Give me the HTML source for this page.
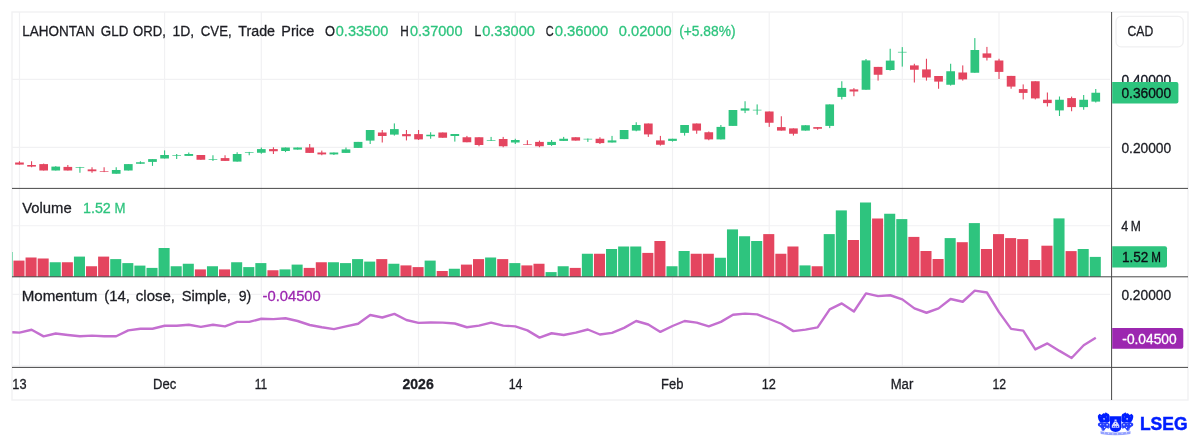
<!DOCTYPE html>
<html lang="en"><head><meta charset="utf-8"><title>LAHONTAN GLD ORD chart</title>
<style>html,body{margin:0;padding:0;background:#fff;}body{width:1200px;height:437px;overflow:hidden;}svg{display:block;}text{font-family:"Liberation Sans",sans-serif;}</style></head><body>
<svg width="1200" height="437" viewBox="0 0 1200 437">
<rect width="1200" height="437" fill="#fff"/>
<rect x="12" y="12" width="1176" height="388" fill="none" stroke="#f1f1f3" stroke-width="1.4"/>
<g stroke="#f1f1f3" stroke-width="1.15">
<line x1="19.5" y1="12" x2="19.5" y2="367"/>
<line x1="164.6" y1="12" x2="164.6" y2="367"/>
<line x1="261.3" y1="12" x2="261.3" y2="367"/>
<line x1="418.5" y1="12" x2="418.5" y2="367"/>
<line x1="515.3" y1="12" x2="515.3" y2="367"/>
<line x1="672.5" y1="12" x2="672.5" y2="367"/>
<line x1="769.2" y1="12" x2="769.2" y2="367"/>
<line x1="902.3" y1="12" x2="902.3" y2="367"/>
<line x1="999.0" y1="12" x2="999.0" y2="367"/>
<line x1="12" y1="79.4" x2="1110" y2="79.4"/>
<line x1="12" y1="147.4" x2="1110" y2="147.4"/>
<line x1="12" y1="225.7" x2="1110" y2="225.7"/>
<line x1="12" y1="294.3" x2="1110" y2="294.3"/>
<line x1="12" y1="365.9" x2="1110" y2="365.9"/>
</g>
<g>
 <rect x="13.46" y="260.60" width="11.05" height="16.20" fill="#e4455f"/>
 <rect x="25.55" y="257.50" width="11.05" height="19.30" fill="#e4455f"/>
 <rect x="37.65" y="258.50" width="11.05" height="18.30" fill="#e4455f"/>
 <rect x="49.74" y="262.25" width="11.05" height="14.55" fill="#2ec47e"/>
 <rect x="61.83" y="262.25" width="11.05" height="14.55" fill="#e4455f"/>
 <rect x="73.93" y="256.60" width="11.05" height="20.20" fill="#2ec47e"/>
 <rect x="86.02" y="266.25" width="11.05" height="10.55" fill="#e4455f"/>
 <rect x="98.11" y="256.60" width="11.05" height="20.20" fill="#e4455f"/>
 <rect x="110.21" y="259.10" width="11.05" height="17.70" fill="#2ec47e"/>
 <rect x="122.30" y="263.10" width="11.05" height="13.70" fill="#2ec47e"/>
 <rect x="134.39" y="265.60" width="11.05" height="11.20" fill="#2ec47e"/>
 <rect x="146.49" y="267.90" width="11.05" height="8.90" fill="#2ec47e"/>
 <rect x="158.58" y="248.00" width="11.05" height="28.80" fill="#2ec47e"/>
 <rect x="170.67" y="266.25" width="11.05" height="10.55" fill="#2ec47e"/>
 <rect x="182.77" y="263.75" width="11.05" height="13.05" fill="#2ec47e"/>
 <rect x="194.86" y="269.40" width="11.05" height="7.40" fill="#e4455f"/>
 <rect x="206.95" y="266.25" width="11.05" height="10.55" fill="#2ec47e"/>
 <rect x="219.05" y="269.40" width="11.05" height="7.40" fill="#e4455f"/>
 <rect x="231.14" y="262.25" width="11.05" height="14.55" fill="#2ec47e"/>
 <rect x="243.23" y="267.10" width="11.05" height="9.70" fill="#2ec47e"/>
 <rect x="255.33" y="263.10" width="11.05" height="13.70" fill="#2ec47e"/>
 <rect x="267.42" y="270.25" width="11.05" height="6.55" fill="#e4455f"/>
 <rect x="279.51" y="269.40" width="11.05" height="7.40" fill="#2ec47e"/>
 <rect x="291.61" y="264.60" width="11.05" height="12.20" fill="#2ec47e"/>
 <rect x="303.70" y="267.90" width="11.05" height="8.90" fill="#e4455f"/>
 <rect x="315.79" y="262.25" width="11.05" height="14.55" fill="#e4455f"/>
 <rect x="327.89" y="262.25" width="11.05" height="14.55" fill="#2ec47e"/>
 <rect x="339.98" y="263.10" width="11.05" height="13.70" fill="#2ec47e"/>
 <rect x="352.07" y="259.10" width="11.05" height="17.70" fill="#2ec47e"/>
 <rect x="364.17" y="261.60" width="11.05" height="15.20" fill="#2ec47e"/>
 <rect x="376.26" y="259.10" width="11.05" height="17.70" fill="#e4455f"/>
 <rect x="388.35" y="263.75" width="11.05" height="13.05" fill="#2ec47e"/>
 <rect x="400.45" y="265.40" width="11.05" height="11.40" fill="#e4455f"/>
 <rect x="412.54" y="267.10" width="11.05" height="9.70" fill="#e4455f"/>
 <rect x="424.63" y="260.60" width="11.05" height="16.20" fill="#2ec47e"/>
 <rect x="436.73" y="271.00" width="11.05" height="5.80" fill="#e4455f"/>
 <rect x="448.82" y="268.75" width="11.05" height="8.05" fill="#2ec47e"/>
 <rect x="460.91" y="264.60" width="11.05" height="12.20" fill="#e4455f"/>
 <rect x="473.01" y="259.10" width="11.05" height="17.70" fill="#e4455f"/>
 <rect x="485.10" y="257.50" width="11.05" height="19.30" fill="#2ec47e"/>
 <rect x="497.19" y="259.10" width="11.05" height="17.70" fill="#e4455f"/>
 <rect x="509.29" y="263.10" width="11.05" height="13.70" fill="#2ec47e"/>
 <rect x="521.38" y="265.40" width="11.05" height="11.40" fill="#e4455f"/>
 <rect x="533.47" y="263.75" width="11.05" height="13.05" fill="#e4455f"/>
 <rect x="545.57" y="272.10" width="11.05" height="4.70" fill="#2ec47e"/>
 <rect x="557.66" y="266.25" width="11.05" height="10.55" fill="#2ec47e"/>
 <rect x="569.75" y="267.90" width="11.05" height="8.90" fill="#e4455f"/>
 <rect x="581.85" y="253.75" width="11.05" height="23.05" fill="#2ec47e"/>
 <rect x="593.94" y="253.75" width="11.05" height="23.05" fill="#e4455f"/>
 <rect x="606.03" y="249.00" width="11.05" height="27.80" fill="#2ec47e"/>
 <rect x="618.12" y="246.50" width="11.05" height="30.30" fill="#2ec47e"/>
 <rect x="630.22" y="246.50" width="11.05" height="30.30" fill="#2ec47e"/>
 <rect x="642.31" y="252.90" width="11.05" height="23.90" fill="#e4455f"/>
 <rect x="654.40" y="241.00" width="11.05" height="35.80" fill="#e4455f"/>
 <rect x="666.50" y="266.25" width="11.05" height="10.55" fill="#2ec47e"/>
 <rect x="678.59" y="251.00" width="11.05" height="25.80" fill="#2ec47e"/>
 <rect x="690.68" y="253.75" width="11.05" height="23.05" fill="#e4455f"/>
 <rect x="702.78" y="253.75" width="11.05" height="23.05" fill="#e4455f"/>
 <rect x="714.87" y="257.75" width="11.05" height="19.05" fill="#2ec47e"/>
 <rect x="726.96" y="229.40" width="11.05" height="47.40" fill="#2ec47e"/>
 <rect x="739.06" y="236.25" width="11.05" height="40.55" fill="#2ec47e"/>
 <rect x="751.15" y="241.00" width="11.05" height="35.80" fill="#2ec47e"/>
 <rect x="763.24" y="234.10" width="11.05" height="42.70" fill="#e4455f"/>
 <rect x="775.34" y="253.75" width="11.05" height="23.05" fill="#e4455f"/>
 <rect x="787.43" y="246.50" width="11.05" height="30.30" fill="#e4455f"/>
 <rect x="799.52" y="265.40" width="11.05" height="11.40" fill="#2ec47e"/>
 <rect x="811.62" y="266.25" width="11.05" height="10.55" fill="#e4455f"/>
 <rect x="823.71" y="234.10" width="11.05" height="42.70" fill="#2ec47e"/>
 <rect x="835.80" y="210.40" width="11.05" height="66.40" fill="#2ec47e"/>
 <rect x="847.90" y="240.00" width="11.05" height="36.80" fill="#e4455f"/>
 <rect x="859.99" y="202.50" width="11.05" height="74.30" fill="#2ec47e"/>
 <rect x="872.08" y="218.50" width="11.05" height="58.30" fill="#e4455f"/>
 <rect x="884.18" y="213.75" width="11.05" height="63.05" fill="#2ec47e"/>
 <rect x="896.27" y="219.10" width="11.05" height="57.70" fill="#2ec47e"/>
 <rect x="908.36" y="236.90" width="11.05" height="39.90" fill="#e4455f"/>
 <rect x="920.46" y="251.00" width="11.05" height="25.80" fill="#e4455f"/>
 <rect x="932.55" y="259.00" width="11.05" height="17.80" fill="#e4455f"/>
 <rect x="944.64" y="238.10" width="11.05" height="38.70" fill="#2ec47e"/>
 <rect x="956.74" y="242.20" width="11.05" height="34.60" fill="#e4455f"/>
 <rect x="968.83" y="223.10" width="11.05" height="53.70" fill="#2ec47e"/>
 <rect x="980.92" y="249.00" width="11.05" height="27.80" fill="#e4455f"/>
 <rect x="993.02" y="234.10" width="11.05" height="42.70" fill="#e4455f"/>
 <rect x="1005.11" y="238.10" width="11.05" height="38.70" fill="#e4455f"/>
 <rect x="1017.20" y="239.10" width="11.05" height="37.70" fill="#e4455f"/>
 <rect x="1029.30" y="260.00" width="11.05" height="16.80" fill="#e4455f"/>
 <rect x="1041.39" y="245.70" width="11.05" height="31.10" fill="#e4455f"/>
 <rect x="1053.48" y="218.40" width="11.05" height="58.40" fill="#2ec47e"/>
 <rect x="1065.58" y="251.10" width="11.05" height="25.70" fill="#e4455f"/>
 <rect x="1077.67" y="249.00" width="11.05" height="27.80" fill="#2ec47e"/>
 <rect x="1089.76" y="256.90" width="11.05" height="19.90" fill="#2ec47e"/>
<rect x="12" y="252" width="0.9" height="24.8" fill="#2ec47e" opacity="0.6"/>
</g>
<g>
<rect x="18.91" y="161.25" width="1.1" height="3.35" fill="#e4455f"/>
<rect x="15.11" y="162.50" width="8.7" height="2.10" fill="#e4455f"/>
<rect x="31.00" y="161.25" width="1.1" height="6.00" fill="#e4455f"/>
<rect x="27.20" y="165.00" width="8.7" height="1.60" fill="#e4455f"/>
<rect x="43.10" y="163.60" width="1.1" height="6.90" fill="#e4455f"/>
<rect x="39.30" y="164.10" width="8.7" height="6.40" fill="#e4455f"/>
<rect x="55.19" y="166.20" width="1.1" height="4.30" fill="#2ec47e"/>
<rect x="51.39" y="166.60" width="8.7" height="3.90" fill="#2ec47e"/>
<rect x="67.28" y="165.00" width="1.1" height="5.50" fill="#e4455f"/>
<rect x="63.48" y="166.90" width="8.7" height="3.60" fill="#e4455f"/>
<rect x="79.38" y="166.90" width="1.1" height="5.85" fill="#2ec47e"/>
<rect x="75.58" y="167.00" width="8.7" height="0.65" fill="#2ec47e"/>
<rect x="91.47" y="167.25" width="1.1" height="5.50" fill="#e4455f"/>
<rect x="87.67" y="169.40" width="8.7" height="1.85" fill="#e4455f"/>
<rect x="103.56" y="167.25" width="1.1" height="4.85" fill="#e4455f"/>
<rect x="99.76" y="171.18" width="8.7" height="0.65" fill="#e4455f"/>
<rect x="115.66" y="167.25" width="1.1" height="6.50" fill="#2ec47e"/>
<rect x="111.86" y="170.00" width="8.7" height="3.75" fill="#2ec47e"/>
<rect x="127.75" y="164.10" width="1.1" height="6.40" fill="#2ec47e"/>
<rect x="123.95" y="164.10" width="8.7" height="6.40" fill="#2ec47e"/>
<rect x="139.84" y="161.25" width="1.1" height="2.75" fill="#2ec47e"/>
<rect x="136.04" y="162.25" width="8.7" height="1.50" fill="#2ec47e"/>
<rect x="151.94" y="159.10" width="1.1" height="6.80" fill="#2ec47e"/>
<rect x="148.14" y="159.10" width="8.7" height="2.80" fill="#2ec47e"/>
<rect x="164.03" y="150.40" width="1.1" height="8.10" fill="#2ec47e"/>
<rect x="160.23" y="155.00" width="8.7" height="3.50" fill="#2ec47e"/>
<rect x="176.12" y="154.00" width="1.1" height="5.00" fill="#2ec47e"/>
<rect x="172.32" y="155.05" width="8.7" height="0.65" fill="#2ec47e"/>
<rect x="188.22" y="152.50" width="1.1" height="3.40" fill="#2ec47e"/>
<rect x="184.42" y="154.00" width="8.7" height="1.90" fill="#2ec47e"/>
<rect x="200.31" y="155.00" width="1.1" height="4.75" fill="#e4455f"/>
<rect x="196.51" y="155.00" width="8.7" height="4.75" fill="#e4455f"/>
<rect x="212.40" y="155.25" width="1.1" height="5.65" fill="#2ec47e"/>
<rect x="208.60" y="159.05" width="8.7" height="0.65" fill="#2ec47e"/>
<rect x="224.50" y="155.25" width="1.1" height="5.65" fill="#e4455f"/>
<rect x="220.70" y="158.10" width="8.7" height="2.80" fill="#e4455f"/>
<rect x="236.59" y="152.25" width="1.1" height="9.35" fill="#2ec47e"/>
<rect x="232.79" y="154.00" width="8.7" height="7.60" fill="#2ec47e"/>
<rect x="248.68" y="151.90" width="1.1" height="3.35" fill="#2ec47e"/>
<rect x="244.88" y="152.00" width="8.7" height="0.65" fill="#2ec47e"/>
<rect x="260.78" y="147.50" width="1.1" height="6.25" fill="#2ec47e"/>
<rect x="256.98" y="149.10" width="8.7" height="3.65" fill="#2ec47e"/>
<rect x="272.87" y="147.25" width="1.1" height="6.75" fill="#e4455f"/>
<rect x="269.07" y="149.10" width="8.7" height="2.15" fill="#e4455f"/>
<rect x="284.96" y="147.50" width="1.1" height="4.60" fill="#2ec47e"/>
<rect x="281.16" y="147.50" width="8.7" height="3.50" fill="#2ec47e"/>
<rect x="297.06" y="147.50" width="1.1" height="2.10" fill="#2ec47e"/>
<rect x="293.26" y="147.50" width="8.7" height="2.10" fill="#2ec47e"/>
<rect x="309.15" y="144.00" width="1.1" height="8.90" fill="#e4455f"/>
<rect x="305.35" y="147.50" width="8.7" height="5.40" fill="#e4455f"/>
<rect x="321.24" y="150.60" width="1.1" height="4.65" fill="#e4455f"/>
<rect x="317.44" y="152.50" width="8.7" height="1.90" fill="#e4455f"/>
<rect x="333.34" y="152.50" width="1.1" height="2.50" fill="#2ec47e"/>
<rect x="329.54" y="152.50" width="8.7" height="1.90" fill="#2ec47e"/>
<rect x="345.43" y="147.50" width="1.1" height="5.40" fill="#2ec47e"/>
<rect x="341.63" y="149.40" width="8.7" height="3.50" fill="#2ec47e"/>
<rect x="357.52" y="141.90" width="1.1" height="6.00" fill="#2ec47e"/>
<rect x="353.72" y="141.90" width="8.7" height="6.00" fill="#2ec47e"/>
<rect x="369.62" y="130.00" width="1.1" height="14.00" fill="#2ec47e"/>
<rect x="365.82" y="130.00" width="8.7" height="10.60" fill="#2ec47e"/>
<rect x="381.71" y="130.00" width="1.1" height="12.50" fill="#e4455f"/>
<rect x="377.91" y="132.50" width="8.7" height="3.50" fill="#e4455f"/>
<rect x="393.80" y="123.40" width="1.1" height="12.20" fill="#2ec47e"/>
<rect x="390.00" y="129.10" width="8.7" height="5.50" fill="#2ec47e"/>
<rect x="405.90" y="130.00" width="1.1" height="10.40" fill="#e4455f"/>
<rect x="402.10" y="134.10" width="8.7" height="2.15" fill="#e4455f"/>
<rect x="417.99" y="130.00" width="1.1" height="10.00" fill="#e4455f"/>
<rect x="414.19" y="134.10" width="8.7" height="5.30" fill="#e4455f"/>
<rect x="430.08" y="132.25" width="1.1" height="6.50" fill="#2ec47e"/>
<rect x="426.28" y="134.75" width="8.7" height="1.50" fill="#2ec47e"/>
<rect x="442.18" y="132.50" width="1.1" height="5.25" fill="#e4455f"/>
<rect x="438.38" y="132.50" width="8.7" height="5.25" fill="#e4455f"/>
<rect x="454.27" y="134.00" width="1.1" height="7.60" fill="#2ec47e"/>
<rect x="450.47" y="134.00" width="8.7" height="2.00" fill="#2ec47e"/>
<rect x="466.36" y="135.90" width="1.1" height="6.35" fill="#e4455f"/>
<rect x="462.56" y="137.25" width="8.7" height="5.00" fill="#e4455f"/>
<rect x="478.46" y="137.25" width="1.1" height="9.00" fill="#e4455f"/>
<rect x="474.66" y="137.25" width="8.7" height="7.75" fill="#e4455f"/>
<rect x="490.55" y="136.90" width="1.1" height="4.10" fill="#2ec47e"/>
<rect x="486.75" y="140.18" width="8.7" height="0.65" fill="#2ec47e"/>
<rect x="502.64" y="136.90" width="1.1" height="10.35" fill="#e4455f"/>
<rect x="498.84" y="139.00" width="8.7" height="7.25" fill="#e4455f"/>
<rect x="514.74" y="138.75" width="1.1" height="5.25" fill="#2ec47e"/>
<rect x="510.94" y="140.00" width="8.7" height="2.50" fill="#2ec47e"/>
<rect x="526.83" y="140.25" width="1.1" height="4.75" fill="#e4455f"/>
<rect x="523.03" y="144.05" width="8.7" height="0.65" fill="#e4455f"/>
<rect x="538.92" y="140.60" width="1.1" height="6.65" fill="#e4455f"/>
<rect x="535.12" y="141.90" width="8.7" height="4.35" fill="#e4455f"/>
<rect x="551.02" y="140.00" width="1.1" height="5.90" fill="#2ec47e"/>
<rect x="547.22" y="141.90" width="8.7" height="3.10" fill="#2ec47e"/>
<rect x="563.11" y="136.90" width="1.1" height="4.00" fill="#2ec47e"/>
<rect x="559.31" y="138.75" width="8.7" height="2.15" fill="#2ec47e"/>
<rect x="575.20" y="137.25" width="1.1" height="3.35" fill="#e4455f"/>
<rect x="571.40" y="137.25" width="8.7" height="3.35" fill="#e4455f"/>
<rect x="587.30" y="138.50" width="1.1" height="3.40" fill="#2ec47e"/>
<rect x="583.50" y="138.80" width="8.7" height="0.65" fill="#2ec47e"/>
<rect x="599.39" y="137.25" width="1.1" height="6.75" fill="#e4455f"/>
<rect x="595.59" y="138.75" width="8.7" height="4.35" fill="#e4455f"/>
<rect x="611.48" y="135.90" width="1.1" height="6.60" fill="#2ec47e"/>
<rect x="607.68" y="140.40" width="8.7" height="2.10" fill="#2ec47e"/>
<rect x="623.58" y="130.00" width="1.1" height="9.10" fill="#2ec47e"/>
<rect x="619.77" y="130.00" width="8.7" height="9.10" fill="#2ec47e"/>
<rect x="635.67" y="122.25" width="1.1" height="9.00" fill="#2ec47e"/>
<rect x="631.87" y="125.00" width="8.7" height="5.60" fill="#2ec47e"/>
<rect x="647.76" y="123.50" width="1.1" height="13.40" fill="#e4455f"/>
<rect x="643.96" y="123.50" width="8.7" height="10.90" fill="#e4455f"/>
<rect x="659.85" y="135.90" width="1.1" height="9.70" fill="#e4455f"/>
<rect x="656.05" y="140.40" width="8.7" height="4.35" fill="#e4455f"/>
<rect x="671.95" y="138.75" width="1.1" height="2.85" fill="#2ec47e"/>
<rect x="668.15" y="138.75" width="8.7" height="2.15" fill="#2ec47e"/>
<rect x="684.04" y="125.00" width="1.1" height="10.60" fill="#2ec47e"/>
<rect x="680.24" y="125.00" width="8.7" height="7.90" fill="#2ec47e"/>
<rect x="696.13" y="123.50" width="1.1" height="10.25" fill="#e4455f"/>
<rect x="692.33" y="123.50" width="8.7" height="7.10" fill="#e4455f"/>
<rect x="708.23" y="131.50" width="1.1" height="8.75" fill="#e4455f"/>
<rect x="704.43" y="132.25" width="8.7" height="7.15" fill="#e4455f"/>
<rect x="720.32" y="125.00" width="1.1" height="14.40" fill="#2ec47e"/>
<rect x="716.52" y="126.90" width="8.7" height="12.50" fill="#2ec47e"/>
<rect x="732.41" y="110.00" width="1.1" height="15.90" fill="#2ec47e"/>
<rect x="728.61" y="110.00" width="8.7" height="15.90" fill="#2ec47e"/>
<rect x="744.51" y="101.25" width="1.1" height="11.85" fill="#2ec47e"/>
<rect x="740.71" y="108.40" width="8.7" height="2.20" fill="#2ec47e"/>
<rect x="756.60" y="104.40" width="1.1" height="10.35" fill="#2ec47e"/>
<rect x="752.80" y="109.77" width="8.7" height="0.65" fill="#2ec47e"/>
<rect x="768.69" y="111.50" width="1.1" height="15.40" fill="#e4455f"/>
<rect x="764.89" y="111.50" width="8.7" height="11.25" fill="#e4455f"/>
<rect x="780.79" y="116.25" width="1.1" height="14.35" fill="#e4455f"/>
<rect x="776.99" y="127.10" width="8.7" height="3.50" fill="#e4455f"/>
<rect x="792.88" y="128.40" width="1.1" height="7.20" fill="#e4455f"/>
<rect x="789.08" y="128.40" width="8.7" height="5.35" fill="#e4455f"/>
<rect x="804.97" y="125.25" width="1.1" height="5.35" fill="#2ec47e"/>
<rect x="801.17" y="125.25" width="8.7" height="5.35" fill="#2ec47e"/>
<rect x="817.07" y="127.10" width="1.1" height="2.65" fill="#e4455f"/>
<rect x="813.27" y="127.10" width="8.7" height="1.65" fill="#e4455f"/>
<rect x="829.16" y="104.40" width="1.1" height="23.70" fill="#2ec47e"/>
<rect x="825.36" y="104.40" width="8.7" height="21.50" fill="#2ec47e"/>
<rect x="841.25" y="81.25" width="1.1" height="18.15" fill="#2ec47e"/>
<rect x="837.45" y="87.90" width="8.7" height="9.00" fill="#2ec47e"/>
<rect x="853.35" y="88.10" width="1.1" height="8.15" fill="#e4455f"/>
<rect x="849.55" y="89.40" width="8.7" height="2.10" fill="#e4455f"/>
<rect x="865.44" y="59.00" width="1.1" height="30.75" fill="#2ec47e"/>
<rect x="861.64" y="60.40" width="8.7" height="29.35" fill="#2ec47e"/>
<rect x="877.53" y="66.90" width="1.1" height="13.70" fill="#e4455f"/>
<rect x="873.73" y="66.90" width="8.7" height="7.85" fill="#e4455f"/>
<rect x="889.63" y="48.75" width="1.1" height="21.85" fill="#2ec47e"/>
<rect x="885.83" y="60.60" width="8.7" height="9.40" fill="#2ec47e"/>
<rect x="901.72" y="47.10" width="1.1" height="19.50" fill="#2ec47e"/>
<rect x="897.92" y="51.85" width="8.7" height="0.65" fill="#2ec47e"/>
<rect x="913.81" y="63.75" width="1.1" height="18.75" fill="#e4455f"/>
<rect x="910.01" y="65.40" width="8.7" height="4.35" fill="#e4455f"/>
<rect x="925.91" y="58.75" width="1.1" height="21.85" fill="#e4455f"/>
<rect x="922.11" y="69.40" width="8.7" height="8.10" fill="#e4455f"/>
<rect x="938.00" y="76.00" width="1.1" height="12.75" fill="#e4455f"/>
<rect x="934.20" y="76.00" width="8.7" height="5.60" fill="#e4455f"/>
<rect x="950.09" y="63.75" width="1.1" height="21.85" fill="#2ec47e"/>
<rect x="946.29" y="71.25" width="8.7" height="13.50" fill="#2ec47e"/>
<rect x="962.19" y="65.40" width="1.1" height="15.20" fill="#e4455f"/>
<rect x="958.39" y="72.50" width="8.7" height="6.90" fill="#e4455f"/>
<rect x="974.28" y="38.10" width="1.1" height="34.65" fill="#2ec47e"/>
<rect x="970.48" y="50.00" width="8.7" height="22.75" fill="#2ec47e"/>
<rect x="986.37" y="46.90" width="1.1" height="13.60" fill="#e4455f"/>
<rect x="982.57" y="53.40" width="8.7" height="4.35" fill="#e4455f"/>
<rect x="998.47" y="58.75" width="1.1" height="20.25" fill="#e4455f"/>
<rect x="994.67" y="60.50" width="8.7" height="11.40" fill="#e4455f"/>
<rect x="1010.56" y="75.90" width="1.1" height="12.85" fill="#e4455f"/>
<rect x="1006.76" y="75.90" width="8.7" height="10.70" fill="#e4455f"/>
<rect x="1022.65" y="84.40" width="1.1" height="15.00" fill="#e4455f"/>
<rect x="1018.85" y="89.10" width="8.7" height="3.80" fill="#e4455f"/>
<rect x="1034.75" y="81.25" width="1.1" height="18.15" fill="#e4455f"/>
<rect x="1030.95" y="81.25" width="8.7" height="17.15" fill="#e4455f"/>
<rect x="1046.84" y="92.50" width="1.1" height="14.00" fill="#e4455f"/>
<rect x="1043.04" y="99.75" width="8.7" height="3.35" fill="#e4455f"/>
<rect x="1058.93" y="96.50" width="1.1" height="19.50" fill="#2ec47e"/>
<rect x="1055.13" y="99.75" width="8.7" height="10.65" fill="#2ec47e"/>
<rect x="1071.03" y="96.60" width="1.1" height="14.65" fill="#e4455f"/>
<rect x="1067.23" y="98.10" width="8.7" height="9.00" fill="#e4455f"/>
<rect x="1083.12" y="95.00" width="1.1" height="14.75" fill="#2ec47e"/>
<rect x="1079.32" y="99.75" width="8.7" height="7.35" fill="#2ec47e"/>
<rect x="1095.21" y="89.00" width="1.1" height="13.50" fill="#2ec47e"/>
<rect x="1091.41" y="92.75" width="8.7" height="8.85" fill="#2ec47e"/>
</g>
<polyline points="12.3,332.3 19.5,332.60 31.6,329.75 43.6,336.40 55.7,333.50 67.8,335.00 79.9,336.25 92.0,335.60 104.1,336.25 116.2,336.25 128.3,330.40 140.4,328.75 152.5,328.75 164.6,325.75 176.7,325.75 188.8,324.75 200.9,326.90 213.0,324.75 225.0,326.40 237.1,321.90 249.2,321.90 261.3,318.75 273.4,319.10 285.5,318.25 297.6,321.00 309.7,325.00 321.8,327.25 333.9,329.10 346.0,326.40 358.1,323.75 370.2,315.00 382.3,317.50 394.4,313.90 406.4,320.00 418.5,322.90 430.6,322.50 442.7,322.60 454.8,323.50 466.9,327.25 479.0,325.60 491.1,322.60 503.2,325.60 515.3,326.40 527.4,330.40 539.5,337.60 551.6,333.25 563.7,335.00 575.8,332.60 587.8,329.50 599.9,334.50 612.0,332.90 624.1,327.90 636.2,321.00 648.3,324.50 660.4,331.90 672.5,326.00 684.6,321.00 696.7,322.60 708.8,326.40 720.9,321.90 733.0,314.70 745.1,313.60 757.2,314.40 769.2,319.00 781.3,323.75 793.4,331.10 805.5,329.60 817.6,327.40 829.7,309.40 841.8,303.40 853.9,311.50 866.0,293.40 878.1,296.10 890.2,295.25 902.3,299.40 914.4,308.40 926.5,312.75 938.6,308.40 950.6,299.00 962.7,301.75 974.8,290.60 986.9,292.50 999.0,312.10 1011.1,328.90 1023.2,330.60 1035.3,349.40 1047.4,343.40 1059.5,350.90 1071.6,358.00 1083.7,345.25 1095.8,337.75" fill="none" stroke="#c46fd0" stroke-width="2.4" stroke-linejoin="round" stroke-linecap="butt"/>
<g stroke="#484848" stroke-width="1">
<line x1="12" y1="188.4" x2="1188" y2="188.4"/>
<line x1="12" y1="276.8" x2="1188" y2="276.8"/>
<line x1="12" y1="367.4" x2="1188" y2="367.4"/>
<line x1="1111.6" y1="12" x2="1111.6" y2="400"/>
</g>
<text x="1121.4" y="84.5" font-size="14" fill="#131722" stroke="#131722" stroke-width="0.3" textLength="49.8" lengthAdjust="spacingAndGlyphs">0.40000</text>
<path d="M1112.2 82.1H1176.4a2 2 0 0 1 2 2V101.5a2 2 0 0 1 -2 2H1112.2Z" fill="#2ec47e"/>
<path d="M1112.2 246.2H1165a2 2 0 0 1 2 2V265.6a2 2 0 0 1 -2 2H1112.2Z" fill="#2ec47e"/>
<path d="M1112.2 328H1181.3a2 2 0 0 1 2 2V346.7a2 2 0 0 1 -2 2H1112.2Z" fill="#9c27b0"/>
<rect x="1116" y="16.4" width="67.2" height="30.4" rx="5" fill="#fff" stroke="#f0f0f1" stroke-width="1.3"/>
<text x="1127.5" y="36.0" font-size="14" fill="#1d1e24" stroke="#1d1e24" stroke-width="0.3" textLength="25.7" lengthAdjust="spacingAndGlyphs">CAD</text>
<text x="1121.4" y="97.8" font-size="14" fill="#0b0e14" stroke="#0b0e14" stroke-width="0.3" textLength="49.8" lengthAdjust="spacingAndGlyphs">0.36000</text>
<text x="1121.4" y="152.6" font-size="14" fill="#1d1e24" stroke="#1d1e24" stroke-width="0.3" textLength="49.8" lengthAdjust="spacingAndGlyphs">0.20000</text>
<text x="1121.3" y="230.9" font-size="14" fill="#1d1e24" stroke="#1d1e24" stroke-width="0.3" textLength="7.0" lengthAdjust="spacingAndGlyphs">4</text>
<text x="1130.8" y="230.9" font-size="14" fill="#1d1e24" stroke="#1d1e24" stroke-width="0.3" textLength="10.1" lengthAdjust="spacingAndGlyphs">M</text>
<text x="1122.0" y="262.1" font-size="14" fill="#0b0e14" stroke="#0b0e14" stroke-width="0.3" textLength="26.4" lengthAdjust="spacingAndGlyphs">1.52</text>
<text x="1151.3" y="262.1" font-size="14" fill="#0b0e14" stroke="#0b0e14" stroke-width="0.3" textLength="9.7" lengthAdjust="spacingAndGlyphs">M</text>
<text x="1121.4" y="299.8" font-size="14" fill="#1d1e24" stroke="#1d1e24" stroke-width="0.3" textLength="49.7" lengthAdjust="spacingAndGlyphs">0.20000</text>
<text x="1122.3" y="343.5" font-size="14" fill="#fff" stroke="#fff" stroke-width="0.3" textLength="54.3" lengthAdjust="spacingAndGlyphs">-0.04500</text>
<text x="22.2" y="35.6" font-size="15.3" fill="#1d1e24" stroke="#1d1e24" stroke-width="0.3" textLength="72.5" lengthAdjust="spacingAndGlyphs">LAHONTAN</text>
<text x="100.8" y="35.6" font-size="15.3" fill="#1d1e24" stroke="#1d1e24" stroke-width="0.3" textLength="27.5" lengthAdjust="spacingAndGlyphs">GLD</text>
<text x="133.0" y="35.6" font-size="15.3" fill="#1d1e24" stroke="#1d1e24" stroke-width="0.3" textLength="32.8" lengthAdjust="spacingAndGlyphs">ORD,</text>
<text x="172.5" y="35.6" font-size="15.3" fill="#1d1e24" stroke="#1d1e24" stroke-width="0.3" textLength="21.7" lengthAdjust="spacingAndGlyphs">1D,</text>
<text x="200.8" y="35.6" font-size="15.3" fill="#1d1e24" stroke="#1d1e24" stroke-width="0.3" textLength="30.9" lengthAdjust="spacingAndGlyphs">CVE,</text>
<text x="238.3" y="35.6" font-size="15.3" fill="#1d1e24" stroke="#1d1e24" stroke-width="0.3" textLength="36.7" lengthAdjust="spacingAndGlyphs">Trade</text>
<text x="281.3" y="35.6" font-size="15.3" fill="#1d1e24" stroke="#1d1e24" stroke-width="0.3" textLength="32.9" lengthAdjust="spacingAndGlyphs">Price</text>
<text x="325.0" y="35.6" font-size="15.3" fill="#1d1e24" stroke="#1d1e24" stroke-width="0.3" textLength="10.0" lengthAdjust="spacingAndGlyphs">O</text>
<text x="335.8" y="35.6" font-size="15.3" fill="#2ec47e" stroke="#2ec47e" stroke-width="0.3" textLength="52.5" lengthAdjust="spacingAndGlyphs">0.33500</text>
<text x="400.3" y="35.6" font-size="15.3" fill="#1d1e24" stroke="#1d1e24" stroke-width="0.3" textLength="8.5" lengthAdjust="spacingAndGlyphs">H</text>
<text x="410.0" y="35.6" font-size="15.3" fill="#2ec47e" stroke="#2ec47e" stroke-width="0.3" textLength="52.5" lengthAdjust="spacingAndGlyphs">0.37000</text>
<text x="474.5" y="35.6" font-size="15.3" fill="#1d1e24" stroke="#1d1e24" stroke-width="0.3" textLength="6.7" lengthAdjust="spacingAndGlyphs">L</text>
<text x="482.2" y="35.6" font-size="15.3" fill="#2ec47e" stroke="#2ec47e" stroke-width="0.3" textLength="52.8" lengthAdjust="spacingAndGlyphs">0.33000</text>
<text x="545.8" y="35.6" font-size="15.3" fill="#1d1e24" stroke="#1d1e24" stroke-width="0.3" textLength="7.9" lengthAdjust="spacingAndGlyphs">C</text>
<text x="554.7" y="35.6" font-size="15.3" fill="#2ec47e" stroke="#2ec47e" stroke-width="0.3" textLength="53.6" lengthAdjust="spacingAndGlyphs">0.36000</text>
<text x="618.8" y="35.6" font-size="15.3" fill="#2ec47e" stroke="#2ec47e" stroke-width="0.3" textLength="52.9" lengthAdjust="spacingAndGlyphs">0.02000</text>
<text x="679.2" y="35.6" font-size="15.3" fill="#2ec47e" stroke="#2ec47e" stroke-width="0.3" textLength="56.3" lengthAdjust="spacingAndGlyphs">(+5.88%)</text>
<text x="22.2" y="212.8" font-size="15.3" fill="#1d1e24" stroke="#1d1e24" stroke-width="0.3" textLength="49.5" lengthAdjust="spacingAndGlyphs">Volume</text>
<text x="83.0" y="212.8" font-size="15.3" fill="#2ec47e" stroke="#2ec47e" stroke-width="0.3" textLength="27.8" lengthAdjust="spacingAndGlyphs">1.52</text>
<text x="114.5" y="212.8" font-size="15.3" fill="#2ec47e" stroke="#2ec47e" stroke-width="0.3" textLength="11.0" lengthAdjust="spacingAndGlyphs">M</text>
<text x="21.7" y="301.0" font-size="15.3" fill="#1d1e24" stroke="#1d1e24" stroke-width="0.3" textLength="75.8" lengthAdjust="spacingAndGlyphs">Momentum</text>
<text x="104.2" y="301.0" font-size="15.3" fill="#1d1e24" stroke="#1d1e24" stroke-width="0.3" textLength="25.8" lengthAdjust="spacingAndGlyphs">(14,</text>
<text x="135.8" y="301.0" font-size="15.3" fill="#1d1e24" stroke="#1d1e24" stroke-width="0.3" textLength="39.2" lengthAdjust="spacingAndGlyphs">close,</text>
<text x="181.7" y="301.0" font-size="15.3" fill="#1d1e24" stroke="#1d1e24" stroke-width="0.3" textLength="49.1" lengthAdjust="spacingAndGlyphs">Simple,</text>
<text x="238.7" y="301.0" font-size="15.3" fill="#1d1e24" stroke="#1d1e24" stroke-width="0.3" textLength="12.5" lengthAdjust="spacingAndGlyphs">9)</text>
<text x="262.5" y="301.0" font-size="15.3" fill="#9c27b0" stroke="#9c27b0" stroke-width="0.3" textLength="58.3" lengthAdjust="spacingAndGlyphs">-0.04500</text>
<clipPath id="tc"><rect x="12.8" y="368" width="1098" height="32"/></clipPath>
<g clip-path="url(#tc)">
<text x="12.3" y="389.3" font-size="14" fill="#1d1e24" stroke="#1d1e24" stroke-width="0.3" textLength="14.2" lengthAdjust="spacingAndGlyphs">13</text>
<text x="153.0" y="389.3" font-size="14" fill="#1d1e24" stroke="#1d1e24" stroke-width="0.3" textLength="23.2" lengthAdjust="spacingAndGlyphs">Dec</text>
<text x="254.8" y="389.3" font-size="14" fill="#1d1e24" stroke="#1d1e24" stroke-width="0.3" textLength="12.4" lengthAdjust="spacingAndGlyphs">11</text>
<text x="402.5" y="389.3" font-size="14" fill="#1d1e24" stroke="#1d1e24" stroke-width="0.3" font-weight="bold" textLength="31.2" lengthAdjust="spacingAndGlyphs">2026</text>
<text x="508.7" y="389.3" font-size="14" fill="#1d1e24" stroke="#1d1e24" stroke-width="0.3" textLength="13.8" lengthAdjust="spacingAndGlyphs">14</text>
<text x="661.1" y="389.3" font-size="14" fill="#1d1e24" stroke="#1d1e24" stroke-width="0.3" textLength="22.3" lengthAdjust="spacingAndGlyphs">Feb</text>
<text x="761.7" y="389.3" font-size="14" fill="#1d1e24" stroke="#1d1e24" stroke-width="0.3" textLength="14.2" lengthAdjust="spacingAndGlyphs">12</text>
<text x="890.7" y="389.3" font-size="14" fill="#1d1e24" stroke="#1d1e24" stroke-width="0.3" textLength="22.6" lengthAdjust="spacingAndGlyphs">Mar</text>
<text x="992.5" y="389.3" font-size="14" fill="#1d1e24" stroke="#1d1e24" stroke-width="0.3" textLength="13.6" lengthAdjust="spacingAndGlyphs">12</text>
</g>
<g fill="#001eff">
<g transform="translate(1094 408) scale(0.06636)">
<path d="M58 118L84 88L112 104L140 80L166 84L176 64L196 78L222 92L236 122L238 196L222 214L196 222L160 214L120 222L92 214L70 180L60 146Z"/>
<path d="M70 226L100 214L150 222L200 220L236 236L238 292L218 314L190 296L172 314L152 344L118 338L112 304L92 286L62 268L58 240Z" opacity="0.86"/>
<path d="M592 118L566 88L538 104L510 80L484 84L474 64L454 78L428 92L414 122L412 196L428 214L454 222L490 214L530 222L558 214L580 180L590 146Z"/>
<path d="M580 226L550 214L500 222L450 220L414 236L412 292L432 314L460 296L478 314L498 344L532 338L538 304L558 286L588 268L592 240Z" opacity="0.86"/>
<path d="M240 124H410V290Q410 356 325 360Q240 356 240 290Z"/>
<path d="M96 350Q325 392 552 350L548 392Q325 428 102 392Z" opacity="0.42"/>
<g fill="#fff">
<path d="M310 172H340V204L358 224L382 262V298H268V262L292 224L310 204Z" opacity="0.82"/>
<path d="M138 150L166 160L150 188Z M512 150L484 160L500 188Z" opacity="0.9"/>
<circle cx="100" cy="250" r="10" opacity="0.85"/><circle cx="550" cy="250" r="10" opacity="0.85"/>
<circle cx="198" cy="254" r="12" opacity="0.9"/><circle cx="452" cy="254" r="12" opacity="0.9"/>
<circle cx="160" cy="292" r="9" opacity="0.85"/><circle cx="490" cy="292" r="9" opacity="0.85"/>
<circle cx="148" cy="246" r="7" opacity="0.7"/><circle cx="502" cy="246" r="7" opacity="0.7"/>
<circle cx="190" cy="134" r="6" opacity="0.7"/><circle cx="460" cy="134" r="6" opacity="0.7"/>
<circle cx="104" cy="128" r="5" opacity="0.6"/><circle cx="546" cy="128" r="5" opacity="0.6"/>
<circle cx="128" cy="318" r="6" opacity="0.7"/><circle cx="522" cy="318" r="6" opacity="0.7"/>
<circle cx="222" cy="300" r="6" opacity="0.7"/><circle cx="428" cy="300" r="6" opacity="0.7"/>
<rect x="150" y="362" width="18" height="22" opacity="0.55"/><rect x="210" y="372" width="18" height="22" opacity="0.55"/><rect x="275" y="378" width="18" height="22" opacity="0.55"/><rect x="345" y="378" width="18" height="22" opacity="0.55"/><rect x="415" y="372" width="18" height="22" opacity="0.55"/><rect x="480" y="362" width="18" height="22" opacity="0.55"/>
</g>
<g>
<circle cx="298" cy="280" r="10"/><circle cx="326" cy="284" r="10"/><circle cx="354" cy="280" r="10"/><circle cx="325" cy="234" r="8"/><rect x="312" y="196" width="26" height="8"/>
</g>
</g>

</g>
<text x="1139.9" y="430.2" font-size="19" font-weight="bold" fill="#001eff" stroke="#001eff" stroke-width="0.5" textLength="47.6" lengthAdjust="spacingAndGlyphs">LSEG</text>
</svg></body></html>
